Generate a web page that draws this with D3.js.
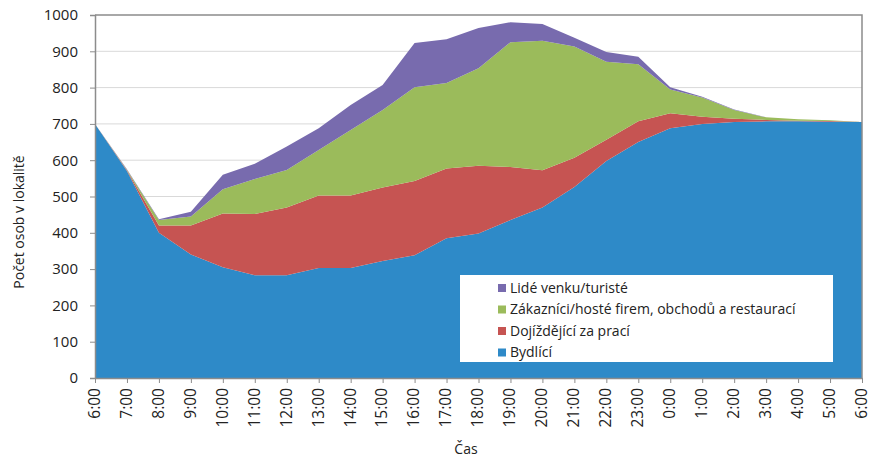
<!DOCTYPE html>
<html>
<head>
<meta charset="utf-8">
<script src="https://cdn.jsdelivr.net/npm/d3@7"></script>
<style>
  body { margin: 0; background: #fff; }
  text { font-family: "Open Sans", "DejaVu Sans", sans-serif; fill: #222; }
</style>
</head>
<body>
<div id="chart"></div>
<script>
const w = 871;
const h = 457;
const margin = {top: 15, right: 9, bottom: 79, left: 95};

const hours = ['6:00','7:00','8:00','9:00','10:00','11:00','12:00','13:00','14:00','15:00',
  '16:00','17:00','18:00','19:00','20:00','21:00','22:00','23:00','0:00','1:00',
  '2:00','3:00','4:00','5:00','6:00 '];

const seriesNames = ['Bydlící', 'Dojíždějící za prací',
  'Zákazníci/hosté firem, obchodů a restaurací', 'Lidé venku/turisté'];
const colors = ['#2e8ac8', '#c65452', '#9bbb5b', '#786bae'];

const bydlici =   [700,570,400,340,305,283,283,303,303,322,338,385,398,435,470,526,598,650,688,700,705,707,707,706,705];
const dojizdejici = [0,2,20,80,148,169,187,200,200,203,205,192,187,146,102,81,58,57,41,20,9,4,2,2,0];
const zakaznici = [0,2,15,25,67,96,103,125,180,213,258,236,268,344,357,306,215,157,66,53,24,7,4,2,0];
const turiste =   [0,1,2,13,40,42,65,60,69,69,122,120,111,55,46,24,27,21,6,2,2,0,0,0,0];

const yTicks = [0,100,200,300,400,500,600,700,800,900,1000];

const rows = hours.map((hr, i) => ({
  hour: hr, s0: bydlici[i], s1: dojizdejici[i], s2: zakaznici[i], s3: turiste[i]
}));

const svg = d3.select('#chart').append('svg')
  .attr('width', w)
  .attr('height', h);

const xScale = d3.scalePoint()
  .domain(hours)
  .range([margin.left, w - margin.right]);

const yScale = d3.scaleLinear()
  .domain([0, 1000])
  .range([h - margin.bottom, margin.top]);

// grid
svg.append('g')
  .selectAll('line')
  .data(yTicks.slice(1, -1))
  .enter().append('line')
  .attr('x1', margin.left).attr('x2', w - margin.right)
  .attr('y1', d => yScale(d)).attr('y2', d => yScale(d))
  .attr('stroke', '#d9d9d9').attr('stroke-width', 1);

const stack = d3.stack().keys(['s0','s1','s2','s3']);
const layers = stack(rows);

const area = d3.area()
  .x(d => xScale(d.data.hour))
  .y0(d => yScale(d[0]))
  .y1(d => yScale(d[1]));

svg.append('g')
  .selectAll('path')
  .data(layers)
  .enter().append('path')
  .attr('d', area)
  .attr('fill', (d, i) => colors[i]);

// plot frame (top and right)
svg.append('path')
  .attr('d', 'M' + margin.left + ',' + yScale(1000) + 'H' + (w - margin.right) + 'V' + yScale(0))
  .attr('fill', 'none')
  .attr('stroke', '#8c8c8c')
  .attr('stroke-width', 1.5);

const yAxis = d3.axisLeft(yScale).tickValues(yTicks).tickFormat(d3.format('d'))
  .tickSize(5).tickPadding(12);
const gy = svg.append('g')
  .attr('transform', 'translate(' + margin.left + ',0)')
  .call(yAxis);
gy.select('.domain').attr('stroke', '#8c8c8c').attr('stroke-width', 1.5);
gy.selectAll('.tick line').attr('stroke', '#8c8c8c');
gy.selectAll('.tick text').attr('font-size', '15px').attr('fill', '#222')
  .attr('font-family', '"Open Sans", sans-serif');

const xAxis = d3.axisBottom(xScale).tickSize(5).tickSizeOuter(0);
const gx = svg.append('g')
  .attr('transform', 'translate(0,' + yScale(0) + ')')
  .call(xAxis);
gx.select('.domain').attr('stroke', '#8c8c8c').attr('stroke-width', 1.5);
gx.selectAll('.tick line').attr('stroke', '#8c8c8c');
gx.selectAll('.tick text')
  .attr('font-size', '15.5px').attr('fill', '#222')
  .attr('font-family', '"Open Sans", sans-serif')
  .attr('transform', 'rotate(-90)')
  .attr('text-anchor', 'end')
  .attr('x', -10).attr('y', 0).attr('dy', '0.28em');

// axis titles
svg.append('text')
  .attr('transform', 'translate(24,222) rotate(-90)')
  .attr('text-anchor', 'middle')
  .attr('font-size', '14px')
  .text('Počet osob v lokalitě');

svg.append('text')
  .attr('x', 466).attr('y', 454)
  .attr('text-anchor', 'middle')
  .attr('font-size', '14px')
  .text('Čas');

// legend
const lg = svg.append('g').attr('transform', 'translate(460,275)');
lg.append('rect')
  .attr('width', 373).attr('height', 87)
  .attr('fill', '#fff');

const legendItems = seriesNames.map((n, i) => ({name: n, color: colors[i]})).reverse();
const li = lg.selectAll('g.item')
  .data(legendItems)
  .enter().append('g')
  .attr('class', 'item')
  .attr('transform', (d, i) => 'translate(38,' + (13 + i * 21.5) + ')');
li.append('rect')
  .attr('x', 0).attr('y', -4).attr('width', 8).attr('height', 8)
  .attr('fill', d => d.color);
li.append('text')
  .attr('x', 12).attr('dy', '0.35em')
  .attr('font-size', '14px')
  .text(d => d.name);
</script>
</body>
</html>
